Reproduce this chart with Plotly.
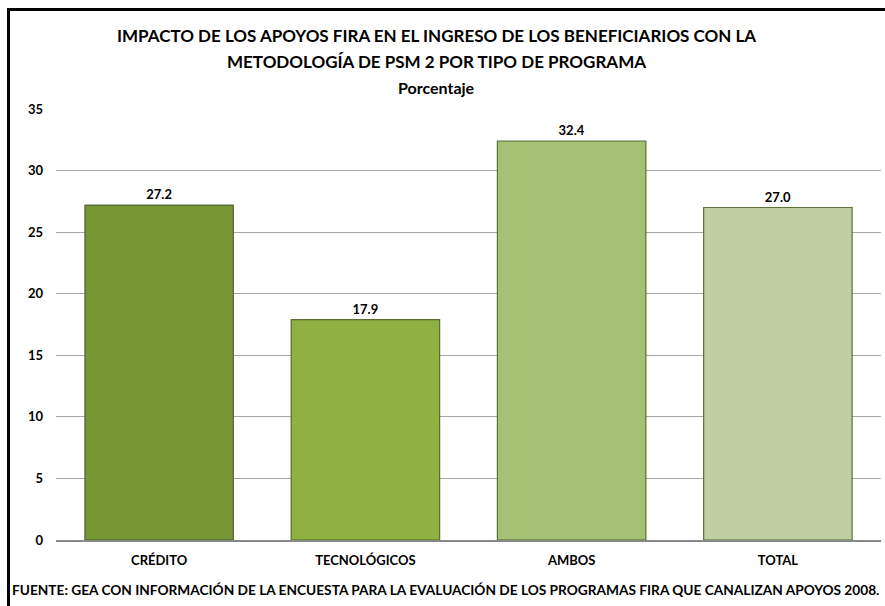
import plotly.graph_objects as go

categories = ["CRÉDITO", "TECNOLÓGICOS", "AMBOS", "TOTAL"]
values = [27.2, 17.9, 32.4, 27.0]
value_labels = ["27.2", "17.9", "32.4", "27.0"]
bar_colors = ["#769535", "#8eb142", "#a4c174", "#bdcfa3"]
tick_vals = [0, 5, 10, 15, 20, 25, 30, 35]

title_lines = [
    "IMPACTO DE LOS APOYOS FIRA EN EL INGRESO DE LOS BENEFICIARIOS CON LA",
    "METODOLOGÍA DE PSM 2 POR TIPO DE PROGRAMA",
    "Porcentaje",
]
footer = "FUENTE: GEA CON INFORMACIÓN DE LA ENCUESTA PARA LA EVALUACIÓN DE LOS PROGRAMAS FIRA QUE CANALIZAN APOYOS 2008."

FONT = "Lato"

W, H = 885, 606
ML, MR, MT, MB = 56, 4, 109, 66
PW, PH = W - ML - MR, H - MT - MB


def px_x(x):
    return (x - ML) / PW


def px_y(y):
    return (H - MB - y) / PH


fig = go.Figure()
fig.add_trace(go.Bar(
    x=categories,
    y=values,
    width=0.72,
    marker=dict(color=bar_colors, line=dict(color="rgba(70,90,35,0.85)", width=1.2)),
    text=value_labels,
    textposition="outside",
    textfont=dict(family=FONT, size=13, color="#000000", weight="bold"),
    cliponaxis=False,
    hoverinfo="skip",
))

annotations = []
for i, (line, ypix) in enumerate(zip(title_lines, [36, 62, 87])):
    annotations.append(dict(
        text=line, xref="paper", yref="paper",
        x=px_x(436), y=px_y(ypix), xanchor="center", yanchor="middle",
        showarrow=False,
        font=dict(family=FONT, size=17 if i < 2 else 16, color="#000000", weight="bold"),
    ))
annotations.append(dict(
    text=footer, xref="paper", yref="paper",
    x=px_x(445), y=px_y(589), xanchor="center", yanchor="middle",
    showarrow=False, font=dict(family=FONT, size=13.7, color="#000000", weight="bold"),
))

fig.update_layout(
    width=W, height=H,
    margin=dict(l=ML, r=MR, t=MT, b=MB, pad=0),
    paper_bgcolor="white", plot_bgcolor="white",
    showlegend=False,
    annotations=annotations,
    shapes=[
        dict(type="rect", xref="paper", yref="paper",
             x0=px_x(8.5), x1=px_x(900), y0=px_y(640), y1=px_y(9.5),
             line=dict(color="#000000", width=3), fillcolor="rgba(0,0,0,0)", layer="above"),
    ],
    xaxis=dict(
        showgrid=False, showline=True, linecolor="#888888", linewidth=1.5,
        ticks="", tickfont=dict(family=FONT, size=13, color="#000000", weight="bold"),
        ticklabelstandoff=8, fixedrange=True,
    ),
    yaxis=dict(
        range=[0, 35], tickvals=tick_vals, showgrid=True, gridcolor="#a6a6a6", gridwidth=1,
        zeroline=False, showline=False, ticks="",
        tickfont=dict(family=FONT, size=13, color="#000000", weight="bold"),
        ticklabelstandoff=12, fixedrange=True,
    ),
)

fig.write_html(
    "out.html",
    config={"displayModeBar": False},
    post_script="document.body.style.margin='0';document.body.style.overflow='hidden';",
)
